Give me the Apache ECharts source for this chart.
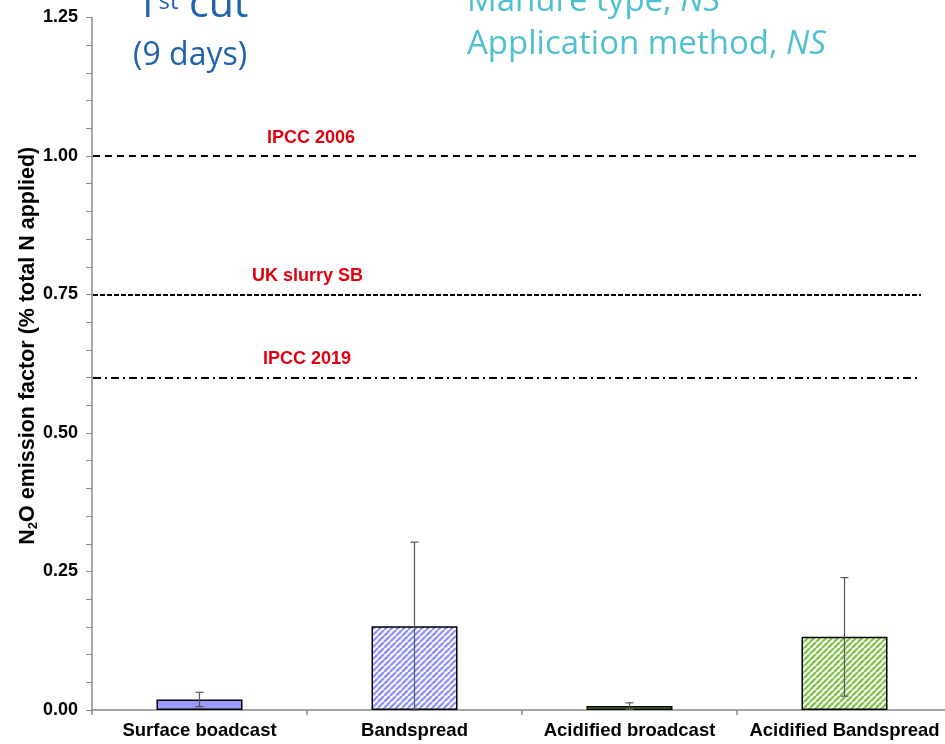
<!DOCTYPE html>
<html><head><meta charset="utf-8">
<script src="https://cdn.jsdelivr.net/npm/echarts@6/dist/echarts.min.js"></script>
<style>html,body{margin:0;padding:0;background:#fff}#c{width:945px;height:744px}</style>
</head><body><div id="c"></div>
<script>
// ---- data ----
const categories = ['Surface boadcast', 'Bandspread', 'Acidified broadcast', 'Acidified Bandspread'];
const meanEF = [0.019, 0.151, 0.007, 0.132];
const errEF = [0.013, 0.152, 0.006, 0.107];
const refNames = ['IPCC 2006', 'UK slurry SB', 'IPCC 2019'];
const refValues = [1.00, 0.75, 0.605];
const yTicks = [0.00, 0.25, 0.50, 0.75, 1.00, 1.25];

// ---- styles ----
function stripes(color) {
  const c = document.createElement('canvas');
  c.width = 6; c.height = 6;
  const g = c.getContext('2d');
  g.fillStyle = '#fff'; g.fillRect(0, 0, 6, 6);
  g.strokeStyle = color; g.lineWidth = 2.4;
  g.beginPath();
  for (const o of [-6, 0, 6]) { g.moveTo(o, 6); g.lineTo(o + 6, 0); }
  g.stroke();
  return c;
}
const barFills = [
  '#9a9aff',
  { image: stripes('#9494ff'), repeat: 'repeat' },
  '#5e9c34',
  { image: stripes('#84c44e'), repeat: 'repeat' }
];
const refLineStyles = [
  { type: [7, 5], width: 2, color: '#000' },
  { type: [5, 2], width: 2, color: '#000' },
  { type: [8, 4, 2, 4], width: 2, color: '#000' }
];
const refLabelDist = [[174, 9], [159, 9], [170, 9.5]];
const F = 'Liberation Sans, Arial, sans-serif';
const T = 'Open Sans';

const chart = echarts.init(document.getElementById('c'), null, { renderer: 'canvas' });
chart.setOption({
  animation: false,
  backgroundColor: '#fff',
  grid: [
    { left: 92, right: -7, top: 17.5, bottom: 34, outerBoundsMode: 'none', containLabel: false },
    { left: 93, right: 24, top: 17.5, bottom: 34, outerBoundsMode: 'none', containLabel: false }
  ],
  xAxis: [
    {
      type: 'category', data: categories, gridIndex: 0,
      axisLine: { lineStyle: { color: '#888', width: 1.5 } },
      axisTick: { show: true, alignWithLabel: false, length: 5, lineStyle: { color: '#888', width: 1.5 } },
      axisLabel: { interval: 0, color: '#000', fontWeight: 'bold', fontSize: 18.5, fontFamily: F, margin: 11 }
    },
    { type: 'value', gridIndex: 1, min: 0, max: 1, show: false }
  ],
  yAxis: [
    {
      type: 'value', gridIndex: 0,
      min: yTicks[0], max: yTicks[yTicks.length - 1], interval: yTicks[1] - yTicks[0],
      axisLine: { show: true, lineStyle: { color: '#888', width: 1.5 } },
      axisTick: { show: true, length: 6, lineStyle: { color: '#888' } },
      minorTick: { show: true, splitNumber: 5, length: 6, lineStyle: { color: '#888' } },
      splitLine: { show: false },
      axisLabel: { formatter: v => v.toFixed(2), color: '#000', fontWeight: 'bold', fontSize: 18, fontFamily: F, margin: 14 },
      name: '{a|N}{s|2}{a|O emission factor (% total N applied)}',
      nameLocation: 'middle', nameRotate: 90, nameGap: 52, nameMoveOverlap: false,
      nameTextStyle: {
        padding: [0, 0, 0, 36],
        rich: {
          a: { fontSize: 21.5, fontWeight: 'bold', fontFamily: F, color: '#000', lineHeight: 24 },
          s: { fontSize: 13, fontWeight: 'bold', fontFamily: F, color: '#000', lineHeight: 10, verticalAlign: 'bottom' }
        }
      }
    },
    { type: 'value', gridIndex: 1, min: yTicks[0], max: yTicks[yTicks.length - 1], show: false }
  ],
  graphic: [
    {
      type: 'text', x: 135, y: 5,
      style: {
        text: '{a|1}{b|st}{a| cut}', fill: '#1f63ae', verticalAlign: 'middle',
        rich: {
          a: { fontSize: 41, fontFamily: T, fill: '#1f63ae', lineHeight: 44 },
          b: { fontSize: 24, fontFamily: T, fill: '#1f63ae', lineHeight: 24, verticalAlign: 'top', padding: [7, 0, 0, 0] }
        }
      }
    },
    { type: 'text', x: 133, y: 56, style: { text: '(9 days)', fontSize: 32, fontFamily: T, fill: '#1f63ae', verticalAlign: 'middle' } },
    {
      type: 'text', x: 467, y: 2,
      style: {
        text: '{a|Manure type, }{i|NS}', verticalAlign: 'middle',
        rich: { a: { fontSize: 33, fontFamily: T, fill: '#4fc0d0' }, i: { fontSize: 33, fontFamily: T, fontStyle: 'italic', fill: '#4fc0d0' } }
      }
    },
    {
      type: 'text', x: 467, y: 45,
      style: {
        text: '{a|Application method, }{i|NS}', verticalAlign: 'middle',
        rich: { a: { fontSize: 33, fontFamily: T, fill: '#4fc0d0' }, i: { fontSize: 33, fontFamily: T, fontStyle: 'italic', fill: '#4fc0d0' } }
      }
    }
  ],
  series: [
    {
      type: 'bar', xAxisIndex: 0, yAxisIndex: 0, barWidth: '40%',
      data: meanEF.map((v, i) => ({ value: v, itemStyle: { color: barFills[i], borderColor: '#000', borderWidth: 1.5 } })),
      silent: true
    },
    {
      type: 'custom', xAxisIndex: 0, yAxisIndex: 0, z: 10, silent: true,
      data: meanEF.map((v, i) => [i, Math.max(0, v - errEF[i]), v + errEF[i]]),
      encode: { x: 0, y: [1, 2] },
      renderItem: (params, api) => {
        const x = api.value(0);
        const lo = api.coord([x, api.value(1)]);
        const hi = api.coord([x, api.value(2)]);
        const w = 4;
        const st = { stroke: '#555', lineWidth: 1.2 };
        return {
          type: 'group', children: [
            { type: 'line', shape: { x1: lo[0], y1: lo[1], x2: hi[0], y2: hi[1] }, style: st },
            { type: 'line', shape: { x1: hi[0] - w, y1: hi[1], x2: hi[0] + w, y2: hi[1] }, style: st },
            { type: 'line', shape: { x1: lo[0] - w, y1: lo[1], x2: lo[0] + w, y2: lo[1] }, style: st }
          ]
        };
      }
    },
    {
      type: 'line', xAxisIndex: 1, yAxisIndex: 1, data: [], silent: true,
      markLine: {
        silent: true, symbol: 'none', animation: false,
        data: refValues.map((v, i) => ({
          yAxis: v, name: refNames[i],
          lineStyle: refLineStyles[i],
          label: {
            show: true, position: 'insideStartTop', formatter: refNames[i], distance: refLabelDist[i],
            color: '#e00010', fontWeight: 'bold', fontSize: 18, fontFamily: F
          }
        }))
      }
    }
  ]
});
</script></body></html>
